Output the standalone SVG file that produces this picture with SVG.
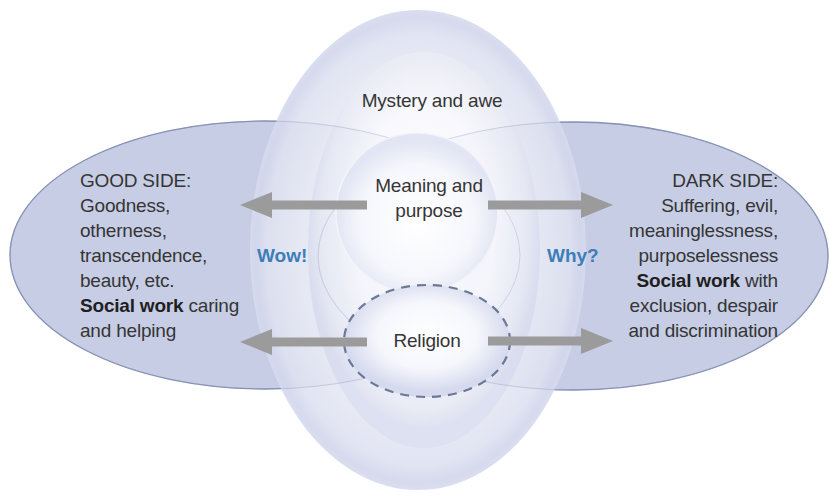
<svg xmlns="http://www.w3.org/2000/svg" width="829" height="495" viewBox="0 0 829 495">
<defs>
<style>
.side{fill:#c6cde4;stroke:#8590b4;stroke-width:1.3}
.sideEdge{fill:none;stroke:#8d97b9;stroke-width:1;opacity:0.3}
.t{font-family:"Liberation Sans",Arial,Helvetica,sans-serif;font-size:19px;fill:#353535;letter-spacing:-0.2px}
.b{font-weight:bold;fill:#1f1f1f}
.blue{font-family:"Liberation Sans",Arial,Helvetica,sans-serif;font-size:19px;font-weight:bold;fill:#3d7db8}
.arrow{stroke:#9b9b9b;stroke-width:9;fill:none;marker-end:url(#ah)}
</style>
<marker id="ah" markerUnits="userSpaceOnUse" markerWidth="32" markerHeight="26" refX="12" refY="13" orient="auto">
<path d="M0,0 L32,13 L0,26 Z" fill="#9b9b9b"/>
</marker>
<radialGradient id="gOuter" cx="0.5" cy="0.5" r="0.5">
<stop offset="0" stop-color="#eef0f8"/>
<stop offset="0.7" stop-color="#e9ebf5"/>
<stop offset="0.9" stop-color="#dfe2f1"/>
<stop offset="0.97" stop-color="#d3d7ec"/>
<stop offset="1" stop-color="#d8dcef"/>
</radialGradient>
<radialGradient id="gInner" cx="0.5" cy="0.45" r="0.5">
<stop offset="0" stop-color="#ffffff"/>
<stop offset="0.6" stop-color="#f9f9fd"/>
<stop offset="0.9" stop-color="#e8eaf5"/>
<stop offset="1" stop-color="#dcdff0"/>
</radialGradient>
<radialGradient id="gMeaning" cx="0.5" cy="0.55" r="0.5">
<stop offset="0" stop-color="#ffffff"/>
<stop offset="0.7" stop-color="#f6f7fc"/>
<stop offset="1" stop-color="#e2e5f3"/>
</radialGradient>
<radialGradient id="gReligion" cx="0.5" cy="0.45" r="0.5">
<stop offset="0" stop-color="#ffffff"/>
<stop offset="0.6" stop-color="#f6f7fc"/>
<stop offset="1" stop-color="#d6daee"/>
</radialGradient>
</defs>
<rect width="829" height="495" fill="#ffffff"/>

<g id="node-good">
<ellipse class="side" cx="265" cy="255" rx="255" ry="134"/>
</g>
<g id="node-dark">
<ellipse class="side" cx="573" cy="256" rx="255" ry="134"/>
</g>

<g id="node-mystery" opacity="0.92">
<ellipse cx="418" cy="250" rx="168" ry="240" fill="url(#gOuter)"/>
<ellipse cx="424" cy="250" rx="116" ry="198" fill="url(#gInner)"/>
</g>

<g id="side-edges">
<ellipse class="sideEdge" cx="265" cy="255" rx="255" ry="134"/>
<ellipse class="sideEdge" cx="573" cy="256" rx="255" ry="134"/>
</g>

<g id="node-meaning">
<ellipse cx="417" cy="213" rx="81" ry="80" fill="url(#gMeaning)" stroke="#f3f4fa" stroke-width="1.5"/>
<text class="t" x="429" y="192" text-anchor="middle">Meaning and</text>
<text class="t" x="429" y="217" text-anchor="middle">purpose</text>
</g>

<g id="node-religion">
<ellipse cx="427" cy="341" rx="83" ry="56" fill="url(#gReligion)" stroke="#6b7997" stroke-width="2.2" stroke-dasharray="9 7"/>
<text class="t" x="427" y="347" text-anchor="middle">Religion</text>
</g>

<g id="label-mystery">
<text class="t" x="432" y="107" text-anchor="middle">Mystery and awe</text>
</g>

<g id="connectors">
<line class="arrow" x1="367" y1="205" x2="260" y2="205"/>
<line class="arrow" x1="367" y1="342" x2="260" y2="342"/>
<line class="arrow" x1="488" y1="205" x2="593" y2="205"/>
<line class="arrow" x1="488" y1="341" x2="593" y2="341"/>
</g>

<g id="label-wow"><text class="blue" x="257" y="262">Wow!</text></g>
<g id="label-why"><text class="blue" x="547" y="262">Why?</text></g>

<g id="text-good">
<text class="t" x="80" y="187">GOOD SIDE:</text>
<text class="t" x="80" y="212">Goodness,</text>
<text class="t" x="80" y="237">otherness,</text>
<text class="t" x="80" y="262">transcendence,</text>
<text class="t" x="80" y="287">beauty, etc.</text>
<text class="t" x="80" y="312"><tspan class="b">Social work</tspan> caring</text>
<text class="t" x="80" y="337">and helping</text>
</g>

<g id="text-dark">
<text class="t" x="778" y="187" text-anchor="end">DARK SIDE:</text>
<text class="t" x="778" y="212" text-anchor="end">Suffering, evil,</text>
<text class="t" x="778" y="237" text-anchor="end">meaninglessness,</text>
<text class="t" x="778" y="262" text-anchor="end">purposelessness</text>
<text class="t" x="778" y="287" text-anchor="end"><tspan class="b">Social work</tspan> with</text>
<text class="t" x="778" y="312" text-anchor="end">exclusion, despair</text>
<text class="t" x="778" y="337" text-anchor="end">and discrimination</text>
</g>
</svg>
